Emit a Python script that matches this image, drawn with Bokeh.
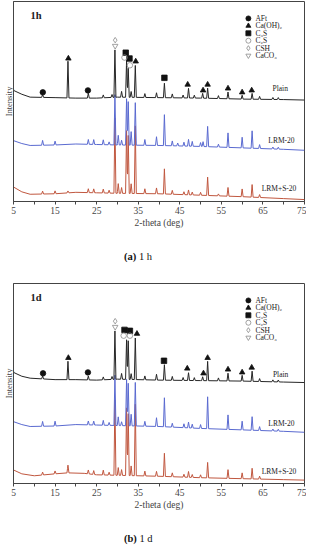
import numpy as np
from bokeh.plotting import figure
from bokeh.models import Range1d, FixedTicker, Div, Label, ColumnDataSource
from bokeh.layouts import column
from bokeh.embed import file_html
from bokeh.resources import INLINE
from bokeh.core.properties import value

FONT = "Liberation Serif"

# ---------------- data ----------------
X_TICKS = [5, 15, 25, 35, 45, 55, 65, 75]
X_MINOR = [10, 20, 30, 40, 50, 60, 70]
SERIES_NAMES = ["Plain", "LRM-20", "LRM+S-20"]
LEGEND_LABELS = ["AFt", "Ca(OH)₂", "C₃S", "C₂S", "CSH", "CaCO₃"]

# ---- 1 h ----
plain_1h_base_x = [5, 7, 9, 15, 20, 25, 30, 40, 50, 60, 70, 75]
plain_1h_base_y = [115, 111, 108, 107.5, 107, 107, 108, 107.5, 107, 106, 105.5, 105]
plain_1h_pk_x = [12.0, 18.1, 23.0, 26.6, 28.7, 29.4, 31.0, 32.2, 32.6, 33.3, 34.3, 36.6, 39.4,
                 41.3, 43.2, 45.8, 47.1, 48.5, 50.5, 51.7, 54.3, 56.6, 60.0, 62.4, 64.2, 67.4, 68.7]
plain_1h_pk_h = [3, 38, 5, 3, 3, 49, 6, 38, 30, 6, 33, 4, 5,
                 15, 4, 3, 10, 3, 5, 10.5, 3, 7, 4, 6, 3, 2, 2]

blue_1h_base_x = [5, 7, 9, 15, 20, 25, 30, 40, 50, 60, 70, 75]
blue_1h_base_y = [63, 60, 58, 58.5, 59.5, 59, 58.5, 58, 57, 55.5, 54, 53]
blue_1h_pk_x = [12.0, 15.0, 23.0, 24.3, 26.6, 28.0, 29.4, 30.2, 31.0, 32.2, 32.6, 33.3, 34.3,
                36.6, 39.4, 41.3, 43.2, 44.5, 46.0, 47.1, 48.0, 50.0, 50.6, 51.7, 54.3,
                56.6, 60.0, 62.4, 64.2, 67.4, 68.7]
blue_1h_pk_h = [5, 4, 5, 5, 5, 3, 52, 10, 5, 48, 45, 14, 44,
                6, 9, 32, 5, 3, 4, 7, 5, 4, 5, 21, 3,
                15, 11, 18, 4, 2, 2]

red_1h_base_x = [5, 7, 9, 15, 20, 25, 30, 40, 50, 60, 70, 75]
red_1h_base_y = [15, 10, 7.5, 8, 9.5, 9, 8.5, 8, 6.5, 5, 3, 2]
red_1h_pk_x = [12.0, 15.0, 18.1, 23.0, 24.3, 26.6, 28.0, 29.4, 30.2, 31.0, 32.2, 32.6, 33.3, 34.3,
               36.6, 39.4, 41.3, 43.2, 46.0, 47.1, 48.0, 50.0, 51.7, 54.3, 56.6, 60.0, 62.4, 64.2]
red_1h_pk_h = [3, 3, 2, 4, 4, 4, 3, 78, 10, 6, 65, 60, 10, 70,
               5, 6, 26, 4, 3, 5, 3, 3, 19, 2, 9, 8, 13, 3]

# phase markers (kind: 0 AFt, 1 Ca(OH)2, 2 C3S, 3 C2S, 4 CSH, 5 CaCO3)
mk_1h_x = [12.05, 22.9, 18.2, 34.4, 46.9, 50.6, 51.7, 56.6, 60.0, 62.3,
           32.0, 32.9, 41.3, 31.7, 33.0, 29.46, 29.46]
mk_1h_y = [113, 115, 148, 145, 121, 115, 121, 117, 113, 115,
           154, 148, 128, 149, 141, 167, 161]
mk_1h_kind = [0, 0, 1, 1, 1, 1, 1, 1, 1, 1, 2, 2, 2, 3, 3, 4, 5]

# ---- 1 d ----
plain_1d_base_x = [5, 7, 9, 15, 20, 25, 30, 40, 50, 60, 70, 75]
plain_1d_base_y = [115, 111, 109, 107.5, 107.5, 107, 108, 107, 106.5, 106, 105, 104.5]
plain_1d_pk_x = [12.0, 18.1, 23.0, 26.6, 28.7, 29.4, 31.0, 32.2, 32.6, 33.3, 34.3, 36.6, 39.4,
                 41.3, 43.2, 45.8, 47.1, 48.5, 50.5, 51.7, 54.3, 56.6, 60.0, 62.4, 64.2, 67.4, 68.7]
plain_1d_pk_h = [3, 19, 4, 3, 3, 50, 6, 41, 40, 6, 43, 4, 6,
                 16, 4, 3, 8, 3, 4, 20, 3, 8, 6, 10.5, 3, 2, 2]

blue_1d_base_x = [5, 7, 9, 15, 20, 25, 30, 40, 50, 60, 70, 75]
blue_1d_base_y = [64, 61, 59, 59.5, 61, 60.5, 60, 59, 57, 55.5, 54, 53]
blue_1d_pk_x = [12.0, 15.0, 23.0, 24.3, 26.6, 28.0, 29.4, 30.2, 31.0, 32.2, 32.6, 33.3, 34.3,
                36.6, 39.4, 41.3, 43.2, 46.0, 47.1, 48.0, 50.0, 51.7, 56.6, 60.0, 62.4, 64.2, 67.4, 68.7]
blue_1d_pk_h = [5, 5, 4, 4, 5, 3, 52, 9, 4, 48, 44, 12, 45,
                5, 9, 30, 4, 4, 6, 4, 4, 33, 15, 9, 14, 4, 2, 2]

red_1d_base_x = [5, 7, 10, 15, 18, 22, 25, 30, 40, 50, 60, 70, 75]
red_1d_base_y = [14, 10, 8, 10, 11, 10.5, 9, 8.5, 7.5, 6, 5, 4, 3.5]
red_1d_pk_x = [12.0, 15.0, 18.1, 23.0, 24.3, 26.6, 28.0, 29.4, 30.2, 31.0, 32.2, 32.6, 33.3, 34.3,
               36.6, 39.4, 41.3, 43.2, 46.0, 47.1, 48.0, 50.0, 51.7, 56.6, 60.0, 62.4, 64.2]
red_1d_pk_h = [3, 3, 8, 4, 4, 5, 3, 78, 8, 6, 70, 64, 10, 74,
               5, 5, 24, 4, 3, 6, 3, 3, 16, 9, 6, 11, 3]

mk_1d_x = [12.1, 22.9, 18.2, 34.7, 46.8, 50.7, 51.7, 56.6, 60.0, 62.3,
           31.7, 33.0, 41.2, 31.5, 33.0, 29.46, 29.46]
mk_1d_y = [114, 115, 130, 155, 119, 114, 130, 118, 115, 120,
           159, 158, 127, 153, 153, 168, 162]
mk_1d_kind = [0, 0, 1, 1, 1, 1, 1, 1, 1, 1, 2, 2, 2, 3, 3, 4, 5]

# ---------------- styles ----------------
COLORS = ["#262626", "#5a6ad0", "#c0573f"]
MARKER_SHAPES = ["circle", "triangle", "square", "circle", "diamond", "inverted_triangle"]
MARKER_FILLED = [True, True, True, False, False, False]
PEAK_W = 0.24


def build_line(bx, by, px, ph):
    xs = list(bx)
    for p in px:
        xs += [p - PEAK_W, p, p + PEAK_W]
    xs = np.array(sorted(set(xs)))
    ys = np.interp(xs, bx, by)
    for p, h in zip(px, ph):
        ys = ys + np.clip(h * (1 - np.abs(xs - p) / PEAK_W), 0, None)
    return xs, ys


def marker_source(xs, ys, kinds):
    return ColumnDataSource(dict(
        x=xs, y=ys,
        marker=[MARKER_SHAPES[k] for k in kinds],
        fill=["#111111" if MARKER_FILLED[k] else None for k in kinds],
        line=["#111111" if MARKER_FILLED[k] else "#8a8a8a" for k in kinds],
    ))


def make_panel(tag, series, mk, name_pos, min_top):
    p = figure(frame_width=291, frame_height=200, x_range=Range1d(5, 75), y_range=Range1d(0, 207),
               output_backend="svg", toolbar_location=None,
               min_border_top=min_top, min_border_left=11, min_border_right=2, min_border_bottom=0)
    p.grid.visible = False
    p.outline_line_color = "#444444"
    p.outline_line_width = 1
    p.background_fill_color = "white"
    p.border_fill_color = "white"

    xa = p.xaxis[0]
    xa.ticker = FixedTicker(ticks=X_TICKS, minor_ticks=X_MINOR)
    xa.axis_label = "2-theta (deg)"
    xa.axis_label_text_font = FONT
    xa.axis_label_text_font_style = "normal"
    xa.axis_label_text_font_size = "9.5px"
    xa.axis_label_standoff = 1
    xa.major_label_text_font = FONT
    xa.major_label_text_font_size = "9.5px"
    xa.major_label_standoff = 2
    xa.major_tick_in = 0
    xa.major_tick_out = 3
    xa.minor_tick_in = 0
    xa.minor_tick_out = 3
    xa.axis_line_color = "#444444"
    xa.major_tick_line_color = "#444444"
    xa.minor_tick_line_color = "#444444"

    ya = p.yaxis[0]
    ya.ticker = FixedTicker(ticks=[])
    ya.axis_label = "Intensity"
    ya.axis_label_text_font = FONT
    ya.axis_label_text_font_style = "normal"
    ya.axis_label_text_font_size = "8.5px"
    ya.axis_label_standoff = 0
    ya.major_label_standoff = 0
    ya.major_tick_in = 0
    ya.major_tick_out = 0
    ya.minor_tick_out = 0
    ya.axis_line_color = "#444444"

    # series lines: red first, then blue, black on top
    for i in [2, 1, 0]:
        bx, by, px, ph = series[i]
        xs, ys = build_line(bx, by, px, ph)
        p.line(xs, ys, line_color=COLORS[i], line_width=1.0)

    # phase markers
    src = marker_source(*mk)
    p.scatter("x", "y", source=src, marker="marker", size=5.5, fill_color="fill",
              line_color="line", line_width=0.8)

    # series names
    p.text(x=[n[0] for n in name_pos], y=[n[1] for n in name_pos], text=SERIES_NAMES,
           text_font=value(FONT), text_font_size=value("7.5px"), text_color="#222222",
           text_baseline="middle", text_align="left")

    # legend (hand-drawn)
    lx_mk, lx_tx, ly0, dy = 61.5, 63.2, 189.5, 7.7
    ly = [ly0 - dy * i for i in range(len(LEGEND_LABELS))]
    lsrc = marker_source([lx_mk] * len(LEGEND_LABELS), ly, list(range(len(LEGEND_LABELS))))
    p.scatter("x", "y", source=lsrc, marker="marker", size=5, fill_color="fill",
              line_color="line", line_width=0.8)
    p.text(x=[lx_tx] * len(LEGEND_LABELS), y=ly, text=LEGEND_LABELS,
           text_font=value(FONT), text_font_size=value("7.5px"), text_color="#222222",
           text_baseline="middle", text_align="left")

    p.add_layout(Label(x=9.1, y=192, text=tag, text_font=FONT, text_font_size="10.5px",
                       text_font_style="bold", text_baseline="middle", text_color="#222222"))
    return p


series_1h = [(plain_1h_base_x, plain_1h_base_y, plain_1h_pk_x, plain_1h_pk_h),
             (blue_1h_base_x, blue_1h_base_y, blue_1h_pk_x, blue_1h_pk_h),
             (red_1h_base_x, red_1h_base_y, red_1h_pk_x, red_1h_pk_h)]
series_1d = [(plain_1d_base_x, plain_1d_base_y, plain_1d_pk_x, plain_1d_pk_h),
             (blue_1d_base_x, blue_1d_base_y, blue_1d_pk_x, blue_1d_pk_h),
             (red_1d_base_x, red_1d_base_y, red_1d_pk_x, red_1d_pk_h)]

names_1h = [(67.3, 117), (66.3, 63.3), (64.7, 13.3)]
names_1d = [(67.4, 113), (66.3, 62), (64.7, 12)]

p1 = make_panel("1h", series_1h, (mk_1h_x, mk_1h_y, mk_1h_kind), names_1h, 1)
p2 = make_panel("1d", series_1d, (mk_1d_x, mk_1d_y, mk_1d_kind), names_1d, 1)

CAP_STYLE = ("position:relative; top:{top}px; left:124px; font-family:'Liberation Serif'; "
             "font-size:10.5px; line-height:12px; color:#111; white-space:nowrap;")
cap1 = Div(text='<div style="%s"><b>(a)</b> 1 h</div>' % CAP_STYLE.format(top=18),
           width=305, height=52, margin=0)
cap2 = Div(text='<div style="%s"><b>(b)</b> 1 d</div>' % CAP_STYLE.format(top=18),
           width=305, height=30, margin=0)

layout = column(p1, cap1, p2, cap2, spacing=0)

open("out.html", "w").write(file_html(layout, INLINE))
